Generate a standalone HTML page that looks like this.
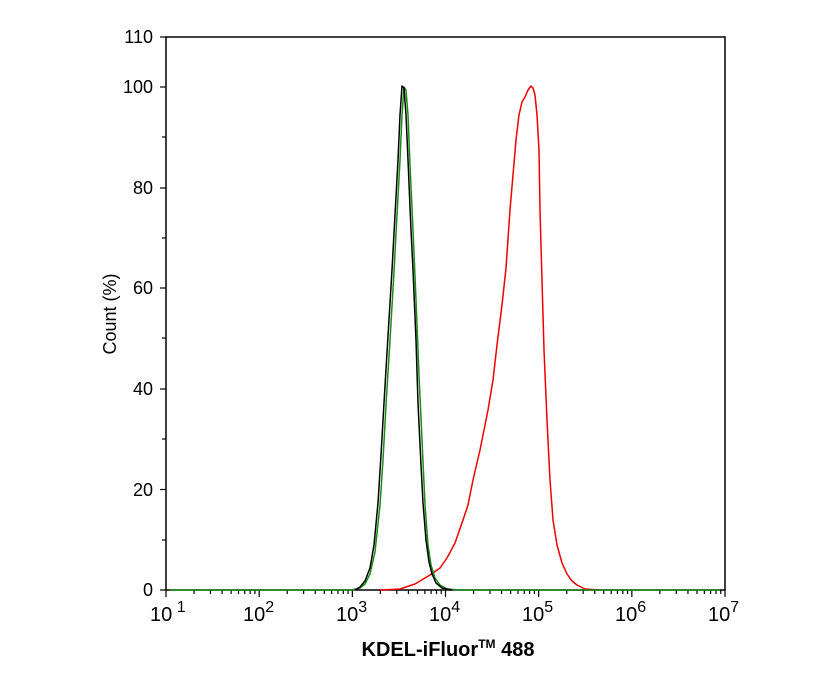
<!DOCTYPE html><html><head><style>body{margin:0;background:#fff}</style></head><body>
<svg width="835" height="668" xmlns="http://www.w3.org/2000/svg" font-family="Liberation Sans, sans-serif">
<rect x="166" y="37" width="559" height="553" fill="none" stroke="#000" stroke-width="1.5"/>
<g stroke="#000" stroke-width="1.2">
<line x1="160" y1="590" x2="166" y2="590"/><line x1="160" y1="489.5" x2="166" y2="489.5"/><line x1="160" y1="389" x2="166" y2="389"/><line x1="160" y1="288" x2="166" y2="288"/><line x1="160" y1="188" x2="166" y2="188"/><line x1="160" y1="87" x2="166" y2="87"/><line x1="160" y1="37" x2="166" y2="37"/>
<line x1="162" y1="540" x2="166" y2="540"/><line x1="162" y1="439" x2="166" y2="439"/><line x1="162" y1="338" x2="166" y2="338"/><line x1="162" y1="238" x2="166" y2="238"/><line x1="162" y1="137" x2="166" y2="137"/>
</g>
<g id="xt" stroke="#000" stroke-width="1.2"></g>
<g font-size="18" text-anchor="end">
<text x="153" y="596">0</text><text x="153" y="496">20</text><text x="153" y="395">40</text><text x="153" y="294">60</text><text x="153" y="194">80</text><text x="153" y="93">100</text><text x="153" y="43">110</text>
</g>
<g font-size="20">
<text x="150" y="621">10<tspan dy="-9" font-size="16"> 1</tspan></text>
<text x="243" y="621">10<tspan dy="-9" font-size="16">2</tspan></text>
<text x="336" y="621">10<tspan dy="-9" font-size="16">3</tspan></text>
<text x="429" y="621">10<tspan dy="-9" font-size="16">4</tspan></text>
<text x="522" y="621">10<tspan dy="-9" font-size="16">5</tspan></text>
<text x="615" y="621">10<tspan dy="-9" font-size="16">6</tspan></text>
<text x="708" y="621">10<tspan dy="-9" font-size="16">7</tspan></text>
</g>
<text x="448" y="656" font-size="20" font-weight="bold" text-anchor="middle">KDEL-iFluor<tspan font-size="12" dy="-8">TM</tspan><tspan dy="8"> 488</tspan></text>
<text transform="translate(116,314) rotate(-90)" font-size="18" text-anchor="middle">Count  (%)</text>
<polyline fill="none" stroke="#e00" stroke-width="1.5" stroke-linejoin="round" points="380,590 400,589 415,584 430,575 440,568 447,558 455,543 463,520 468,505 473,480 480,450 488,410 493,380 497,345 502,305 506,268 510,210 513,175 516,140 519,115 522,102 525,97 528,90 531,86 533,88 535,95 537,115 539,150 540,210 542,280 544,350 547,420 550,480 553,520 557,545 562,563 567,574 572,581 577,585 585,589 600,590"/>
<polyline fill="none" stroke="#1a8a1a" stroke-width="1.5" stroke-linejoin="round" points="170,590 352,590 360,588 365,584 370,574 375,552 380,505 383,460 386,405 390,340 394,272 397,215 400,160 402,115 404,87 406,90 408,115 410,165 413,230 416,300 419,375 422,440 425,505 428,545 431,565 435,578 440,585 447,589 460,590 720,590"/>
<polyline fill="none" stroke="#000" stroke-width="1.5" stroke-linejoin="round" points="355,590 360,587 365,581 370,568 374,545 378,503 381,455 384,403 388,336 392,270 395,215 398,160 400,115 402,86 404,88 406,115 408,160 411,230 413,270 416,340 418,403 421,465 423,503 426,540 429,562 432,574 436,583 442,588 452,590"/>
</svg>
<script>
var g=document.getElementById('xt'),s='';
for(var d=0;d<6;d++){var x0=166+d*93.17;s+='<line x1="'+x0+'" y1="590" x2="'+x0+'" y2="597"/>';
for(var k=2;k<10;k++){var x=x0+Math.log10(k)*93.17;s+='<line x1="'+x+'" y1="590" x2="'+x+'" y2="594"/>';}}
s+='<line x1="725" y1="590" x2="725" y2="597"/>';g.innerHTML=s;
</script>
</body></html>
